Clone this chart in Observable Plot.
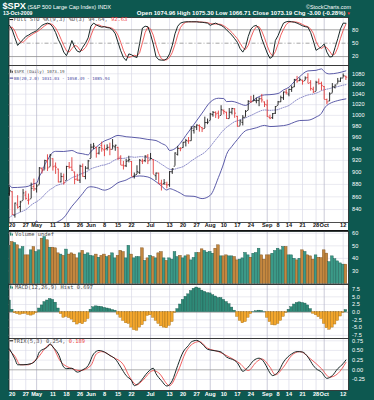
<!DOCTYPE html>
<html><head><meta charset="utf-8">
<script src="https://cdn.jsdelivr.net/npm/d3@7"></script>
<script src="https://cdn.jsdelivr.net/npm/@observablehq/plot@0.6"></script>
<style>
html,body{margin:0;padding:0;background:#0d5850;}
#c{position:relative;width:374px;height:400px;background:#0d5850;overflow:hidden;}
#c svg{position:absolute;left:0;top:0;}
.bg{position:absolute;}
</style></head><body><div id="c"></div>
<script>
// ---- trading days (2009) ----
const dates = ["04-17","04-20","04-21","04-22","04-23","04-24","04-27","04-28","04-29","04-30",
"05-01","05-04","05-05","05-06","05-07","05-08","05-11","05-12","05-13","05-14",
"05-15","05-18","05-19","05-20","05-21","05-22","05-26","05-27","05-28","05-29",
"06-01","06-02","06-03","06-04","06-05","06-08","06-09","06-10","06-11","06-12",
"06-15","06-16","06-17","06-18","06-19","06-22","06-23","06-24","06-25","06-26",
"06-29","06-30","07-01","07-02","07-06","07-07","07-08","07-09","07-10","07-13",
"07-14","07-15","07-16","07-17","07-20","07-21","07-22","07-23","07-24","07-27",
"07-28","07-29","07-30","07-31","08-03","08-04","08-05","08-06","08-07","08-10",
"08-11","08-12","08-13","08-14","08-17","08-18","08-19","08-20","08-21","08-24",
"08-25","08-26","08-27","08-28","08-31","09-01","09-02","09-03","09-04","09-08",
"09-09","09-10","09-11","09-14","09-15","09-16","09-17","09-18","09-21","09-22",
"09-23","09-24","09-25","09-28","09-29","09-30","10-01","10-02","10-05","10-06",
"10-07","10-08","10-09","10-12","10-13"];

const openP = [865.2,868.3,831.3,847.3,844.6,853.9,862.8,854.5,856.9,876.6,
872.7,879.2,906.1,903.9,919.6,909.0,922.9,910.5,905.4,884.2,
892.8,886.1,909.7,908.6,900.4,888.7,887.0,909.9,893.0,907.0,
923.3,942.9,942.5,932.5,945.7,938.1,940.4,942.7,939.0,943.4,
942.5,925.6,911.9,910.9,920.0,918.1,893.5,896.3,899.5,918.8,
919.9,927.2,920.8,921.2,894.3,898.6,881.9,881.3,880.0,879.6,
900.8,910.2,930.2,940.6,942.1,952.0,953.4,954.1,972.2,978.6,
981.5,977.7,976.0,986.8,990.2,1001.4,1005.4,1004.1,999.8,1008.9,
1005.8,994.0,1005.9,1012.2,998.2,980.6,986.9,996.4,1009.1,1026.6,
1026.6,1027.4,1027.8,1031.6,1025.2,1019.5,996.1,996.1,1003.8,1018.7,
1025.4,1033.0,1043.9,1040.2,1049.0,1054.0,1067.9,1066.6,1067.1,1066.4,
1072.7,1062.6,1049.5,1045.4,1063.7,1061.0,1054.9,1029.7,1026.9,1042.0,
1053.6,1060.0,1065.3,1071.6,1074.96];
const highP = [875.6,868.3,850.1,861.8,852.9,871.8,868.8,864.5,882.1,888.7,
880.5,907.9,907.7,920.3,929.6,930.2,922.9,915.6,905.4,898.4,
897.0,910.0,916.4,924.6,900.4,896.6,911.8,913.8,909.5,920.0,
947.8,949.4,942.5,942.5,951.7,946.3,946.9,949.8,956.2,946.3,
942.5,928.0,918.4,921.9,927.1,918.1,898.7,910.9,921.4,922.0,
928.0,930.0,931.9,921.2,898.7,898.6,886.8,887.9,883.6,901.1,
905.8,933.0,944.0,941.9,951.6,956.5,959.8,979.4,979.8,982.5,
982.4,977.8,996.7,993.2,1003.6,1007.1,1006.6,1008.0,1018.0,1010.1,
1005.8,1012.8,1013.1,1012.6,998.2,991.2,999.6,1008.9,1027.6,1035.8,
1037.8,1032.5,1033.3,1039.5,1025.2,1028.5,1000.3,1003.4,1016.5,1026.1,
1036.3,1044.1,1048.2,1049.7,1056.0,1068.8,1074.8,1071.5,1067.3,1073.8,
1080.2,1066.3,1053.5,1065.1,1069.6,1063.4,1054.9,1030.6,1042.6,1060.6,
1058.0,1070.7,1071.5,1079.5,1075.30];
const lowP = [860.9,831.0,826.8,840.6,835.6,853.9,854.7,847.1,856.9,868.5,
866.1,879.2,897.3,903.9,901.4,909.0,902.0,896.5,882.5,882.5,
878.9,886.1,905.2,901.4,879.6,884.8,881.5,891.9,887.6,903.6,
923.3,938.5,923.9,929.3,934.1,926.4,936.2,928.0,939.0,935.7,
919.7,911.6,903.8,907.9,915.8,893.0,888.9,896.3,896.3,913.0,
916.2,912.9,920.8,896.4,886.4,879.9,869.3,878.4,872.8,875.3,
896.5,910.2,927.5,934.9,941.0,943.2,947.9,953.3,966.0,972.3,
969.4,968.7,976.0,982.9,990.2,996.7,994.3,992.5,999.8,1001.0,
992.4,993.4,1000.8,994.6,978.5,980.6,980.6,996.4,1009.1,1022.5,
1026.2,1021.6,1016.2,1023.1,1014.6,996.3,992.0,992.3,1001.7,1018.7,
1024.0,1028.0,1038.4,1035.0,1043.4,1052.9,1061.2,1064.3,1057.5,1066.4,
1060.4,1045.9,1041.2,1045.4,1057.8,1046.5,1029.5,1020.0,1025.9,1042.0,
1050.1,1060.0,1063.0,1071.6,1066.71];
const closeP = [869.60,832.39,850.08,843.55,851.92,866.23,857.51,855.16,873.64,872.81,
877.52,907.24,903.80,919.53,907.39,929.23,909.24,908.35,883.92,893.07,
882.88,909.71,908.13,903.47,888.33,887.00,910.33,893.06,906.83,919.14,
942.87,944.74,931.76,942.46,940.09,939.14,942.43,939.15,944.89,946.21,
923.72,911.97,910.71,918.37,921.23,893.04,895.10,900.94,920.26,918.90,
927.23,919.32,923.33,896.42,898.72,881.03,879.56,882.68,879.13,901.05,
905.84,932.68,940.74,940.38,951.13,954.58,954.07,976.29,979.26,982.18,
979.62,975.15,986.75,987.48,1002.63,1005.65,1002.72,997.08,1010.48,1007.10,
994.35,1005.81,1012.73,1004.09,979.73,989.67,996.46,1007.37,1026.13,1025.57,
1028.00,1028.12,1030.98,1028.93,1020.62,998.04,994.75,1003.24,1016.40,1025.39,
1033.37,1044.14,1042.73,1049.34,1052.63,1068.76,1065.49,1068.30,1064.66,1071.66,
1060.87,1050.78,1044.38,1062.98,1060.61,1057.08,1029.85,1025.21,1040.46,1054.72,
1057.58,1065.48,1071.49,1076.19,1073.19];

// Bollinger Bands (20,2)
const bbMid = [827.7,830.9,832.2,834.1,836.0,837.7,839.8,843.1,846.9,850.0,
852.2,855.4,858.8,864.0,868.1,871.8,874.3,877.6,879.2,880.6,
881.3,885.1,888.0,891.0,892.9,893.9,896.5,898.4,900.1,902.4,
905.7,907.5,908.9,910.1,911.7,912.2,913.9,915.4,918.5,921.1,
923.2,923.3,923.4,924.2,925.8,926.1,925.3,925.7,926.4,926.4,
925.6,924.3,923.9,921.6,919.5,916.6,913.5,910.7,907.4,905.1,
904.2,905.3,906.8,907.9,909.4,912.4,915.4,919.2,922.1,925.3,
927.9,930.7,933.9,938.4,943.6,949.9,956.0,961.7,968.3,973.6,
978.0,981.7,985.3,988.5,989.9,991.7,993.8,995.3,997.7,999.8,
1002.3,1004.9,1007.1,1009.2,1010.1,1009.7,1009.3,1009.6,1009.9,1010.8,
1012.8,1014.7,1016.2,1018.4,1022.1,1026.0,1029.5,1032.5,1034.5,1036.8,
1038.4,1039.6,1040.2,1041.9,1043.9,1046.9,1048.6,1049.7,1050.9,1052.4,
1053.6,1054.7,1056.1,1057.5,1058.5];
const bbDates = ["04-17","04-20","04-22","04-24","04-28","04-30","05-01","05-04","05-05","05-06",
"05-07","05-08","05-12","05-15","05-20","05-22","05-27","05-29","06-01","06-03",
"06-08","06-10","06-15","06-18","06-22","06-25","06-30","07-06","07-08","07-10",
"07-13","07-15","07-17","07-21","07-24","07-29","08-03","08-06","08-10","08-11",
"08-13","08-17","08-20","08-24","08-26","08-31","09-02","09-08","09-10","09-14",
"09-16","09-18","09-23","09-28","09-30","10-01","10-02","10-05","10-08","10-13"];
const bbUpper = [878.7,874.9,875.1,875.7,877.1,881.3,882.2,893.4,900.8,913.0,
920.1,928.8,935.6,935.3,937.0,932.9,931.4,929.4,935.2,942.9,
953.7,957.4,963.6,961.2,960.4,958.9,956.4,954.5,949.5,943.9,
937.1,940.3,949.9,963.4,983.4,1004.2,1024.8,1032.2,1031.6,1025.8,
1026.3,1023.6,1018.6,1024.8,1032.5,1038.6,1039.1,1041.3,1048.2,1053.4,
1064.5,1074.5,1085.8,1086.9,1089.9,1084.6,1080.7,1079.8,1081.7,1085.9];
const bbLower = [776.7,786.9,793.1,799.7,809.1,818.7,822.2,817.4,816.8,815.0,
816.1,814.8,819.6,827.3,845.0,854.9,865.4,875.4,876.2,874.9,
870.7,873.4,882.8,887.2,891.8,893.9,892.2,884.5,877.5,870.9,
873.1,870.3,865.9,861.4,860.8,857.2,862.4,891.2,915.6,930.2,
944.3,956.2,972.0,974.8,977.3,981.6,979.5,980.3,981.2,983.4,
987.5,990.5,991.0,996.9,1003.9,1012.6,1018.7,1022.0,1027.7,1031.0];

// Full STO %K(9,3) %D(3)
const stoK = [90,80,62,45,52,58,65,68,72,75,
78,84,90,93,95,93,86,74,58,46,
30,22,37,56,41,32,30,41,50,62,
88,95,91,88,86,87,85,84,80,71,
52,33,18,11,26,24,20,18,50,84,
88,87,70,48,20,13,12,12,15,26,
45,71,88,95,97,98,98,98,98,98,
97,97,96,95,90,93,95,92,90,86,
80,74,68,60,52,38,30,41,65,82,
88,90,82,60,44,28,16,20,56,67,
82,95,98,99,98,97,95,92,89,87,
86,74,55,34,38,42,48,30,19,20,
40,60,82,95,94.64];
const stoD = [84,86,77,62,53,52,58,64,68,72,
75,79,84,89,93,94,91,84,73,59,
45,33,30,38,45,43,34,34,40,51,
67,82,91,91,88,87,86,85,83,78,
68,52,34,21,18,20,23,21,29,51,
74,86,82,68,46,27,15,12,13,18,
29,47,68,85,93,97,98,98,98,98,
98,97,97,96,94,93,93,93,92,89,
85,80,74,67,60,50,40,36,45,63,
78,87,87,77,62,44,29,21,31,48,
68,81,92,97,98,98,97,95,92,89,
87,82,72,54,42,38,43,40,32,23,
26,40,61,79,92.63];

// Volume
const volume = [50,53,52.2,50.4,47.2,49,42.4,42.4,46.4,49,
45,46.4,55.7,57,54.4,48.5,48.5,48,44,43,
42,47,43,44,43,40,44,46,43,44,
42,41.6,43,40.5,42,43,41,42,44,40,
42,46,45,40,50,43,40,41,41,48,
38,40,42,41,40,44,45,40,38,40,
39,45,41,42,40,41.6,42.4,38.4,40.3,44.3,
44.3,47.2,45.9,44.6,45.1,43.7,47.7,50.4,41.6,41.6,
42.4,41.6,41.6,41.1,38.4,39,40,44.3,42.4,40.5,
43.7,44.3,47.7,42.4,39,42.4,42.4,43.7,45.9,47.7,
46.4,49.1,49.1,42.4,42.4,39.7,38.4,39.7,46.4,45.1,
42.4,41.6,39,42.4,40.5,40.2,46.4,43.8,37,41.6,
39.3,37.6,36,35,35];

// MACD(12,26,9) histogram
const macdHist = [3.8,0.8,-0.3,-0.6,-0.8,-0.6,-0.5,-0.9,-1.1,-0.8,
-0.2,1.2,2.2,3.3,3.8,4.3,4.0,3.1,1.2,-0.6,
-1.8,-1.5,-1.9,-2.4,-3.3,-4.0,-3.6,-3.9,-3.2,-2.2,
0.8,1.6,1.9,1.8,1.7,1.4,1.2,1.0,0.7,0.5,
-0.8,-1.8,-2.8,-3.6,-3.8,-5.0,-5.8,-6.0,-5.0,-4.2,
-3.0,-1.2,-1.0,-1.8,-2.8,-3.8,-4.6,-5.0,-5.2,-4.4,
-3.2,-0.2,1.0,2.5,4.0,5.0,5.8,6.9,7.6,8.0,
7.7,7.0,6.6,6.2,6.1,5.5,5.1,4.6,4.6,4.0,
3.3,2.6,1.5,0.5,-1.5,-2.8,-3.6,-3.2,-1.8,-0.6,
0.1,0.3,0.5,0.4,0.1,-1.8,-3.2,-4.2,-4.3,-3.8,
-2.8,-1.5,-0.2,0.8,1.6,2.5,3.0,3.2,3.0,2.8,
2.2,1.0,-0.5,-1.0,-1.6,-2.2,-3.8,-5.2,-5.7,-5.0,
-4.0,-2.8,-1.4,-0.2,0.697];

// TRIX(5,3) and signal
const trixDates = ["04-17","04-21","04-22","04-24","04-29","05-01","05-04","05-07","05-08","05-11",
"05-13","05-15","05-18","05-20","05-22","05-27","05-29","06-02","06-04","06-08",
"06-10","06-12","06-16","06-18","06-22","06-23","06-25","06-30","07-02","07-06",
"07-08","07-10","07-14","07-16","07-20","07-22","07-23","07-27","07-29","07-31",
"08-04","08-07","08-11","08-14","08-17","08-18","08-19","08-20","08-21","08-25",
"08-27","08-28","08-31","09-01","09-02","09-03","09-04","09-08","09-10","09-15",
"09-17","09-21","09-23","09-25","09-28","09-30","10-02","10-06","10-08","10-12","10-13"];
const trix = [0.54,0.28,0.13,0.13,0.16,0.28,0.46,0.59,0.67,0.59,
0.41,0.07,0.03,0.04,-0.06,0.00,0.11,0.41,0.50,0.46,
0.37,0.28,0.07,-0.15,-0.28,-0.41,-0.32,-0.06,0.04,-0.10,
-0.28,-0.42,-0.28,0.11,0.46,0.63,0.72,0.76,0.67,0.53,
0.50,0.46,0.33,0.24,0.18,0.06,-0.04,0.00,0.07,0.24,
0.30,0.27,0.18,0.05,-0.08,-0.15,-0.12,-0.06,0.20,0.41,
0.47,0.46,0.33,0.11,0.03,-0.06,-0.22,-0.15,0.03,0.16,0.254];
const sigDates = ["04-17","04-21","04-23","04-28","05-01","05-08","05-14","05-20","05-26","06-01",
"06-03","06-05","06-11","06-17","06-19","06-24","06-26","07-02","07-07","07-13",
"07-16","07-21","07-27","07-28","07-31","08-06","08-12","08-18","08-21","08-26",
"08-28","09-02","09-04","09-10","09-15","09-18","09-24","09-30","10-05","10-08","10-13"];
const trixSig = [0.50,0.35,0.13,0.13,0.28,0.65,0.20,0.03,-0.02,0.11,
0.41,0.47,0.33,0.13,-0.15,-0.39,-0.28,-0.02,-0.08,-0.41,
-0.06,0.46,0.72,0.73,0.56,0.47,0.33,0.16,-0.02,0.20,
0.28,0.07,-0.13,0.07,0.37,0.47,0.28,0.03,-0.19,-0.10,0.189];

// axis labels
const tickDates = ["04-20","04-27","05-01","05-11","05-18","05-26","06-01","06-08","06-15","06-22",
"07-01","07-13","07-20","07-27","08-03","08-10","08-17","08-24","09-01","09-08",
"09-14","09-21","09-28","10-01","10-12"];
const tickLabels = ["20","27","May","11","18","26","Jun","8","15","22",
"Jul","13","20","27","Aug","10","17","24","Sep","8",
"14","21","28","Oct","12"];
const priceTicks = [840,860,880,900,920,940,960,980,1000,1020,1040,1060,1080];
const stoTicks = [80,50,20];
const volTicks = [30,40,50,60];
const macdTicks = [7.5,5,2.5,0,-2.5,-5,-7.5];
const trixTicks = [0.75,0.5,0.25,0,-0.25];

// ---- build ----
const W = 374, H = 400, L = 8.5, R = 348;
const xDomain = [-0.18, 124.96];
const pos = d => dates.indexOf(d);
const bars = dates.map((d, p) => ({
  p, open: openP[p], high: highP[p], low: lowP[p], close: closeP[p],
  up: p === 0 ? closeP[0] >= openP[0] : closeP[p] >= closeP[p - 1],
  mid: bbMid[p], vol: volume[p], hist: macdHist[p], k: stoK[p], d: stoD[p]
}));
const bbRecs = bbDates.map((d, j) => ({p: pos(d), upper: bbUpper[j], lower: bbLower[j]}));
const trixRecs = trixDates.map((d, j) => ({p: pos(d), v: trix[j]}));
const sigRecs = sigDates.map((d, j) => ({p: pos(d), v: trixSig[j]}));
const ticks = tickDates.map((d, j) => ({p: pos(d), label: tickLabels[j], month: /[A-Z]/.test(tickLabels[j])}));

const WEEK = "#d9d9e6", MONTH = "#b4b4c8", GRID = "#dcdce8";
const vgrid = () => Plot.ruleX(ticks, {x: "p", stroke: d => d.month ? MONTH : WEEK, strokeWidth: 0.7});
const rlabels = (vals, fmt) => Plot.text(vals, {y: d => d, text: fmt, frameAnchor: "right", dx: 3.6, textAnchor: "start", fill: "#ffffff", fontSize: 5.6});

function panel(top, bottom, y, marks) {
  return Plot.plot({
    width: W, height: H,
    marginLeft: L, marginRight: W - R, marginTop: top, marginBottom: H - bottom,
    x: {domain: xDomain, axis: null},
    y: {...y, axis: null},
    style: {background: "transparent", fontFamily: "'Liberation Sans', Arial, sans-serif", fontSize: "5.6px", overflow: "visible"},
    marks
  });
}

const c = document.getElementById("c");
const row = document.createElement("div");
row.className = "bg";
Object.assign(row.style, {left: L + "px", top: "222px", width: (R - L) + "px", height: "7.6px", background: "#fff", borderBottom: "1.6px solid #111"});
c.appendChild(row);

const sto = panel(17, 65, {domain: [0, 107.6]}, [
  Plot.frame({fill: "white"}),
  vgrid(),
  Plot.ruleY([80, 20], {stroke: "#8e8e8e", strokeWidth: 0.8}),
  Plot.ruleY([50], {stroke: "#8e8e8e", strokeWidth: 0.8, strokeDasharray: "4,2,1,2"}),
  Plot.line(bars, {x: "p", y: "d", stroke: "#ee4444", strokeWidth: 0.85}),
  Plot.line(bars, {x: "p", y: "k", stroke: "#0e1e1c", strokeWidth: 0.95}),
  rlabels(stoTicks, d => String(d)),
  Plot.frame({stroke: "#222", strokeWidth: 0.8})
]);

const price = panel(65, 222, {type: "log", domain: [820.1, 1096.7]}, [
  Plot.frame({fill: "white"}),
  Plot.ruleY(priceTicks, {stroke: GRID, strokeWidth: 0.6}),
  vgrid(),
  Plot.line(bars, {x: "p", y: "mid", stroke: "#6d6dbb", strokeWidth: 0.8, strokeDasharray: "1,1.3", clip: true}),
  Plot.line(bbRecs, {x: "p", y: "upper", stroke: "#4a4a9e", strokeWidth: 0.9, curve: "monotone-x", clip: true}),
  Plot.line(bbRecs, {x: "p", y: "lower", stroke: "#4a4a9e", strokeWidth: 0.9, curve: "monotone-x", clip: true}),
  Plot.ruleX(bars, {x: "p", y1: "low", y2: "high", stroke: d => d.up ? "#1a1a1a" : "#e23b3b", strokeWidth: 0.9}),
  Plot.link(bars, {x1: d => d.p - 0.5, x2: "p", y1: "open", y2: "open", stroke: d => d.up ? "#1a1a1a" : "#e23b3b", strokeWidth: 0.8}),
  Plot.link(bars, {x1: "p", x2: d => d.p + 0.5, y1: "close", y2: "close", stroke: d => d.up ? "#1a1a1a" : "#e23b3b", strokeWidth: 0.8}),
  rlabels(priceTicks, d => String(d)),
  Plot.text(ticks, {x: "p", text: "label", frameAnchor: "bottom", dy: 4.4, fill: "#111", fontWeight: "bold", fontSize: 5.6}),
  Plot.frame({stroke: "#222", strokeWidth: 0.8})
]);

const vol = panel(231, 283.5, {domain: [19.6, 61.4]}, [
  Plot.frame({fill: "white"}),
  Plot.ruleY(volTicks, {stroke: GRID, strokeWidth: 0.6}),
  vgrid(),
  Plot.rectY(bars, {x1: d => d.p - 0.5, x2: d => d.p + 0.5, y1: 0, y2: "vol",
    fill: d => d.up ? "#3c9a88" : "#c3873f", stroke: d => d.up ? "#1e6156" : "#7d5220", strokeWidth: 0.45, clip: true}),
  rlabels(volTicks, d => String(d)),
  Plot.frame({stroke: "#222", strokeWidth: 0.8})
]);

const macd = panel(284, 338, {domain: [-8.54, 9.0]}, [
  Plot.frame({fill: "white"}),
  Plot.ruleY(macdTicks.filter(v => v !== 0), {stroke: GRID, strokeWidth: 0.6}),
  vgrid(),
  Plot.ruleY([0], {stroke: "#9a9a9a", strokeWidth: 0.8}),
  Plot.rectY(bars, {x1: d => d.p - 0.5, x2: d => d.p + 0.5, y1: 0, y2: "hist",
    fill: d => d.hist >= 0 ? "#2f8a78" : "#f3a62c", stroke: d => d.hist >= 0 ? "#1c5a4e" : "#a06a10", strokeWidth: 0.4, clip: true}),
  rlabels(macdTicks, d => d.toFixed(1)),
  Plot.frame({stroke: "#222", strokeWidth: 0.8})
]);

const trx = panel(338, 390, {domain: [-0.535, 0.809]}, [
  Plot.frame({fill: "white"}),
  Plot.ruleY(trixTicks.filter(v => v !== 0), {stroke: GRID, strokeWidth: 0.6}),
  vgrid(),
  Plot.ruleY([0], {stroke: "#9a9a9a", strokeWidth: 0.8}),
  Plot.line(sigRecs, {x: "p", y: "v", stroke: "#ee4444", strokeWidth: 0.85, curve: "monotone-x"}),
  Plot.line(trixRecs, {x: "p", y: "v", stroke: "#0e1e1c", strokeWidth: 0.95, curve: "monotone-x"}),
  rlabels(trixTicks, d => d.toFixed(2)),
  Plot.text(ticks, {x: "p", text: "label", frameAnchor: "bottom", dy: 5, fill: "#ffffff", fontWeight: "bold", fontSize: 5.6}),
  Plot.frame({stroke: "#222", strokeWidth: 0.8})
]);

[sto, price, vol, macd, trx].forEach(s => c.appendChild(s));

// ---- header & legends ----
const ann = d3.create("svg").attr("width", W).attr("height", H)
  .style("font-family", "'Liberation Sans', Arial, sans-serif");
function t(x, y, s, o = {}) {
  return ann.append("text").attr("x", x).attr("y", y).text(s)
    .attr("font-size", o.size || 5.6).attr("font-weight", o.weight || "normal")
    .attr("fill", o.fill || "#fff").attr("text-anchor", o.anchor || "start");
}
t(2.5, 9, "$SPX", {size: 9.2, weight: "bold"});
t(27.5, 8.8, "(S&P 500 Large Cap Index) INDX", {size: 5.6});
t(351, 8.5, "\u00A9StockCharts.com", {size: 5.4, anchor: "end"});
t(3, 14.8, "13-Oct-2009", {size: 5.2, weight: "bold"});
t(345.5, 14.8, "Open 1074.96 High 1075.30 Low 1066.71 Close 1073.19 Chg -3.00 (-0.28%)", {size: 6.0, weight: "bold", anchor: "end"});
t(346.5, 14.6, "\u25BC", {size: 4.2, fill: "#ff3030"});

const LG = "#4a4a4a", MONO = "'DejaVu Sans Mono', 'Liberation Mono', monospace";
function lineIcon(x, y, col) { ann.append("line").attr("x1", x).attr("x2", x + 3.6).attr("y1", y).attr("y2", y).attr("stroke", col).attr("stroke-width", 1); }
function barIcon(x, y, col) { ann.append("rect").attr("x", x).attr("y", y - 3.2).attr("width", 1.3).attr("height", 3.2).attr("fill", col); ann.append("rect").attr("x", x + 1.7).attr("y", y - 2).attr("width", 1.3).attr("height", 2).attr("fill", col); }
function legend(x, y, size, parts) {
  const el = ann.append("text").attr("x", x).attr("y", y).attr("font-size", size).attr("font-family", MONO);
  parts.forEach(([s, col]) => el.append("tspan").attr("fill", col).text(s));
  return el;
}

lineIcon(9.5, 19.6, "#111");
legend(13.6, 21.3, 5.4, [["Full STO %K(9,3) %D(3) 94.64, ", LG], ["92.63", "#ee4444"]]);

barIcon(10, 72.8, "#555");
legend(14, 73.2, 4.2, [["$SPX (Daily) 1073.19", LG]]);
lineIcon(9.6, 78.1, "#3a3a9a");
legend(14, 79.7, 4.2, [["BB(20,2.0) 1031.03 - 1058.49 - 1085.94", "#4a4aa0"]]);

barIcon(10, 235.6, "#2f8a78");
legend(15, 235.6, 5.4, [["Volume undef", LG]]);

barIcon(10, 288.6, "#2f8a78");
legend(15, 288.6, 5.4, [["MACD(12,26,9) Hist 0.697", LG]]);

lineIcon(9.5, 340.8, "#111");
legend(13.6, 342.6, 5.4, [["TRIX(5,3) 0.254, ", LG], ["0.189", "#ee4444"]]);

c.appendChild(ann.node());
</script>
</body></html>
